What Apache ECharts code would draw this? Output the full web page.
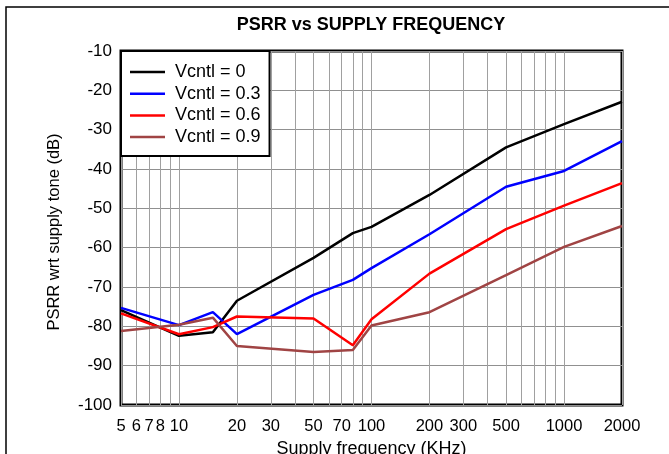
<!DOCTYPE html>
<html>
<head>
<meta charset="utf-8">
<script src="https://cdn.jsdelivr.net/npm/echarts@6/dist/echarts.min.js"></script>
<style>
  html, body { margin: 0; padding: 0; background: #fff; }
  #chart { width: 669px; height: 454px; }
</style>
</head>
<body>
<div id="chart"></div>
<script>
// Supply frequency in KHz and PSRR (dB) for each control voltage
const freqKHz  = [5, 10, 15, 20, 50, 80, 100, 200, 500, 1000, 2000];
const vcntl0   = [-75.9, -82.4, -81.5, -73.5, -62.6, -56.3, -54.7, -46.6, -34.5, -28.6, -22.9];
const vcntl03  = [-75.3, -79.7, -76.4, -82.0, -72.0, -68.2, -65.2, -56.6, -44.5, -40.5, -32.9];
const vcntl06  = [-76.7, -82.0, -80.2, -77.5, -78.0, -84.8, -78.2, -66.6, -55.3, -49.3, -43.6];
const vcntl09  = [-81.2, -79.6, -77.8, -85.0, -86.5, -86.0, -79.8, -76.4, -67.0, -59.8, -54.5];
const seriesNames  = ['Vcntl = 0', 'Vcntl = 0.3', 'Vcntl = 0.6', 'Vcntl = 0.9'];
const seriesColors = ['#000000', '#0000ff', '#ff0000', '#a04444'];

// Decade grid lines and the labelled frequencies on the log axis
const gridFreqs  = [5, 6, 7, 8, 9, 10, 20, 30, 40, 50, 60, 70, 80, 90, 100,
                    200, 300, 400, 500, 600, 700, 800, 900, 1000, 2000];
const labelFreqs = [5, 6, 7, 8, 10, 20, 30, 50, 70, 100, 200, 300, 500, 1000, 2000];
const yMin = -100, yMax = -10, yStep = 10;

const FONT = '"Liberation Sans", Arial, sans-serif';
const lg = Math.log10;

const allSeries = [vcntl0, vcntl03, vcntl06, vcntl09].map((vals, i) => ({
  name: seriesNames[i],
  type: 'line',
  symbol: 'none',
  color: seriesColors[i],
  lineStyle: { width: 2.5, color: seriesColors[i] },
  data: freqKHz.map((f, k) => [lg(f), vals[k]]),
  z: 3
}));

const chart = echarts.init(document.getElementById('chart'), null, { renderer: 'canvas' });
chart.setOption({
  animation: false,
  backgroundColor: '#fff',
  title: {
    text: 'PSRR vs SUPPLY FREQUENCY',
    left: 366,
    top: 11,
    textAlign: 'center',
    textStyle: { fontFamily: FONT, fontSize: 18, fontWeight: 'bold', color: '#000' }
  },
  graphic: [{
    type: 'rect',
    shape: { x: 6, y: 7, width: 700, height: 500 },
    style: { fill: 'none', stroke: '#000', lineWidth: 1.5 },
    silent: true
  }],
  grid: {
    left: 121, top: 51, right: 47, bottom: 49,
    outerBoundsMode: 'none',
    containLabel: false,
    show: true, borderColor: '#000', borderWidth: 3, backgroundColor: 'transparent'
  },
  legend: {
    orient: 'vertical',
    left: 121, top: 51,
    padding: [12, 9, 10, 9],
    itemWidth: 35, itemHeight: 14, itemGap: 3.7,
    backgroundColor: '#fff',
    borderColor: '#000', borderWidth: 2,
    data: seriesNames.map((n, i) => ({ name: n, icon: 'path://M0,6 L35,6 L35,8.5 L0,8.5 Z', itemStyle: { color: seriesColors[i] } })),
    textStyle: { fontFamily: FONT, fontSize: 18, color: '#000', lineHeight: 18, padding: [0, 0, 0, 5] },
    z: 10
  },
  xAxis: {
    type: 'value',
    min: lg(5), max: lg(2000),
    name: 'Supply frequency (KHz)',
    nameLocation: 'middle',
    nameGap: 31,
    nameTextStyle: { fontFamily: FONT, fontSize: 18, color: '#000' },
    axisLine: { show: false },
    axisTick: { show: false, customValues: gridFreqs.map(lg) },
    axisLabel: {
      customValues: labelFreqs.map(lg),
      formatter: v => String(Math.round(Math.pow(10, v))),
      fontFamily: FONT, fontSize: 16.5, color: '#000', margin: 13
    },
    splitLine: { show: true, lineStyle: { color: '#a0a0a0', width: 1 } }
  },
  yAxis: {
    type: 'value',
    min: yMin, max: yMax, interval: yStep,
    name: 'PSRR wrt supply tone (dB)',
    nameLocation: 'middle',
    nameRotate: 90,
    nameGap: 58,
    nameTextStyle: { fontFamily: FONT, fontSize: 16.5, color: '#000', padding: [0, 8, 0, 0] },
    axisLine: { show: false },
    axisTick: { show: false },
    axisLabel: { fontFamily: FONT, fontSize: 17, color: '#000', margin: 9 },
    splitLine: { show: true, lineStyle: { color: '#909090', width: 1 } }
  },
  series: allSeries
});
</script>
</body>
</html>
